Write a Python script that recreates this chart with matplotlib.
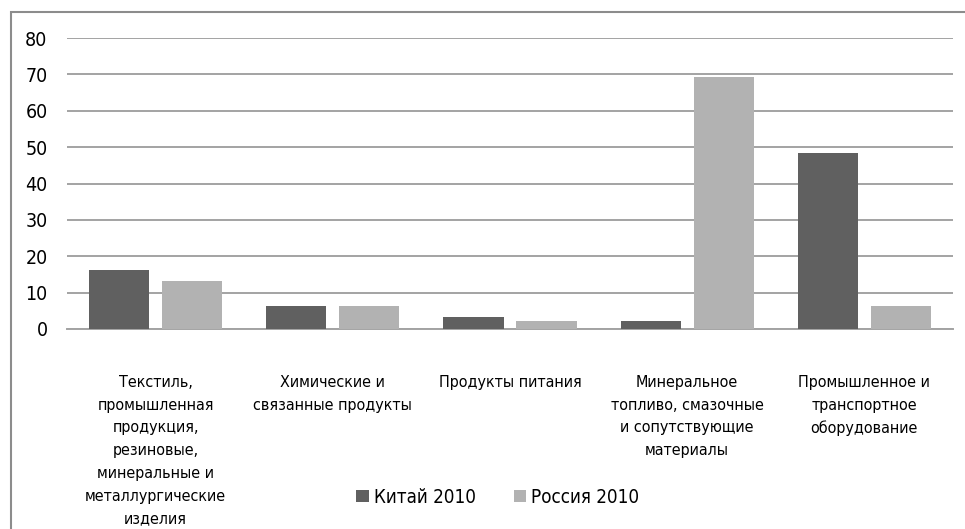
import numpy as np
import matplotlib.pyplot as plt
from matplotlib import font_manager
from matplotlib.patches import Rectangle

# pick a narrow font if one is around (the original looks like Calibri)
fonts = font_manager.fontManager.ttflist
names = {f.name for f in fonts}
if 'Liberation Sans Narrow' in names:
    plt.rcParams['font.family'] = ['Liberation Sans Narrow', 'DejaVu Sans']
elif any(f.name == 'DejaVu Sans' and f.stretch == 'condensed' for f in fonts):
    plt.rcParams['font.family'] = ['DejaVu Sans']
    plt.rcParams['font.stretch'] = 'condensed'
else:
    plt.rcParams['font.family'] = ['Open Sans', 'DejaVu Sans']

categories = [
    'Текстиль,\nпромышленная\nпродукция,\nрезиновые,\nминеральные и\nметаллургические\nизделия',
    'Химические и\nсвязанные продукты',
    'Продукты питания',
    'Минеральное\nтопливо, смазочные\nи сопутствующие\nматериалы',
    'Промышленное и\nтранспортное\nоборудование',
]
china = [16.2, 6.3, 3.3, 2.2, 48.4]
russia = [13.1, 6.3, 2.2, 69.3, 6.3]
series_names = ['Китай 2010', 'Россия 2010']
colors = ['#606060', '#b2b2b2']

fig = plt.figure(figsize=(9.65, 5.29), dpi=100)
ax = fig.add_axes([67 / 965, 1 - 329 / 529, 886 / 965, 291 / 529])

x = np.arange(len(categories))
w = 0.339
gap = 0.073
ax.bar(x - (w + gap) / 2, china, w, color=colors[0], label=series_names[0], zorder=3)
ax.bar(x + (w + gap) / 2, russia, w, color=colors[1], label=series_names[1], zorder=3)

ax.set_xlim(-0.5, len(categories) - 0.5)
ax.set_ylim(0, 80)
ax.set_yticks(range(0, 81, 10))
ax.yaxis.grid(True, color='#a3a3a3', linewidth=1.4, zorder=0)
for s in ['top', 'right', 'left']:
    ax.spines[s].set_visible(False)
ax.spines['bottom'].set_color('#a3a3a3')
ax.spines['bottom'].set_linewidth(1.4)
ax.tick_params(axis='y', length=0, pad=14, labelsize=14)
ax.tick_params(axis='x', length=0, pad=33)
ax.set_xticks(x)
ax.set_xticklabels(categories, fontsize=11.5, linespacing=1.65, va='top')

fig.legend(loc='center', bbox_to_anchor=(0.516, 0.06), ncol=2, frameon=False,
           fontsize=13.5, handlelength=0.65, handleheight=0.65, handletextpad=0.3,
           columnspacing=2.0)

# chart frame: left and top edges are visible, the rest runs off the picture
fig.patches.append(Rectangle((11 / 965, -0.02), 0.99, 1 - 12 / 529 + 0.02,
                             transform=fig.transFigure, fill=False,
                             edgecolor='#8c8c8c', linewidth=1.5))

fig.savefig('out.png', dpi=100)
